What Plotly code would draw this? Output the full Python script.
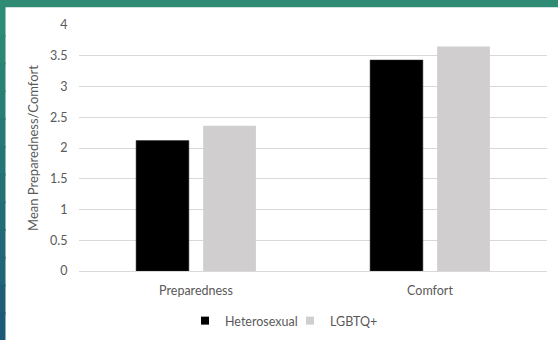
import plotly.graph_objects as go

categories = ["Preparedness", "Comfort"]
heterosexual = [2.12, 3.43]
lgbtq = [2.36, 3.65]
series_names = ["Heterosexual", "LGBTQ+"]
series_colors = ["#000000", "#d0cece"]
y_tick_vals = [0, 0.5, 1, 1.5, 2, 2.5, 3, 3.5, 4]
y_tick_text = ["0", "0.5", "1", "1.5", "2", "2.5", "3", "3.5", "4"]

W, H = 558, 340
ML, MR, MT, MB = 79, 11, 25, 69
PW, PH = W - ML - MR, H - MT - MB

def px2paper_x(px):
    return (px - ML) / PW

def px2paper_y(py):
    return (H - MB - py) / PH

FONT = "Lato, 'Noto Sans', sans-serif"
TXT = "#595959"

fig = go.Figure()
fig.add_trace(go.Bar(x=categories, y=heterosexual, name=series_names[0], showlegend=False,
                     marker=dict(color=series_colors[0], line=dict(color="#262626", width=0.5))))
fig.add_trace(go.Bar(x=categories, y=lgbtq, name=series_names[1], showlegend=False,
                     marker=dict(color=series_colors[1], line=dict(width=0))))
# legend entries with small square swatches
for nm, col in zip(series_names, series_colors):
    fig.add_trace(go.Scatter(x=[None], y=[None], mode="markers", name=nm,
                             marker=dict(symbol="square", size=8, color=col), showlegend=True))

shapes = []
# top teal band
shapes.append(dict(type="rect", xref="paper", yref="paper",
                   x0=px2paper_x(0), x1=px2paper_x(W), y0=px2paper_y(7), y1=px2paper_y(0),
                   fillcolor="#2f8b74", line=dict(width=0), layer="below"))
shapes.append(dict(type="rect", xref="paper", yref="paper",
                   x0=px2paper_x(0), x1=px2paper_x(W), y0=px2paper_y(8), y1=px2paper_y(7),
                   fillcolor="#cfe3de", line=dict(width=0), layer="below"))
# left gradient band
n = 12
c0 = (0x2d, 0x8b, 0x73)
c1 = (0x1e, 0x5a, 0x78)
for i in range(n):
    t = i / (n - 1)
    c = tuple(int(round(a + (b - a) * t)) for a, b in zip(c0, c1))
    ya = 7 + (H - 7) * i / n
    yb = min(H + 1, 7 + (H - 7) * (i + 1) / n + 2)
    shapes.append(dict(type="rect", xref="paper", yref="paper",
                       x0=px2paper_x(-1), x1=px2paper_x(5.5), y0=px2paper_y(yb), y1=px2paper_y(ya),
                       fillcolor="rgb(%d,%d,%d)" % c, line=dict(width=0), layer="below"))

fig.update_layout(
    width=W, height=H,
    margin=dict(l=ML, r=MR, t=MT, b=MB, autoexpand=False),
    paper_bgcolor="white", plot_bgcolor="white",
    barmode="group", bargap=0.427, bargroupgap=0.213,
    font=dict(family=FONT, size=12, color=TXT),
    shapes=shapes,
    showlegend=True,
    legend=dict(orientation="h", xref="container", yref="container",
                x=185 / W, y=1 - 321 / H, xanchor="left", yanchor="middle",
                font=dict(size=12.5, color=TXT), itemwidth=30, traceorder="normal",
                entrywidth=60, entrywidthmode="pixels",
                bgcolor="rgba(0,0,0,0)"),
    xaxis=dict(showgrid=False, showline=False, zeroline=False, automargin=False,
               ticks="outside", ticklen=8, tickcolor="rgba(0,0,0,0)",
               tickfont=dict(size=12.5, color=TXT)),
    yaxis=dict(range=[0, 4], tickvals=y_tick_vals, ticktext=y_tick_text, automargin=False,
               showgrid=True, gridcolor="#d9d9d9", gridwidth=1,
               zeroline=True, zerolinecolor="#d9d9d9", zerolinewidth=1,
               showline=False, ticks="outside", ticklen=8, tickcolor="rgba(0,0,0,0)",
               tickfont=dict(size=12.5, color=TXT),
               title=dict(text="Mean Preparedness/Comfort", standoff=8,
                          font=dict(size=13, color=TXT))),
)

fig.write_html("out.html")
